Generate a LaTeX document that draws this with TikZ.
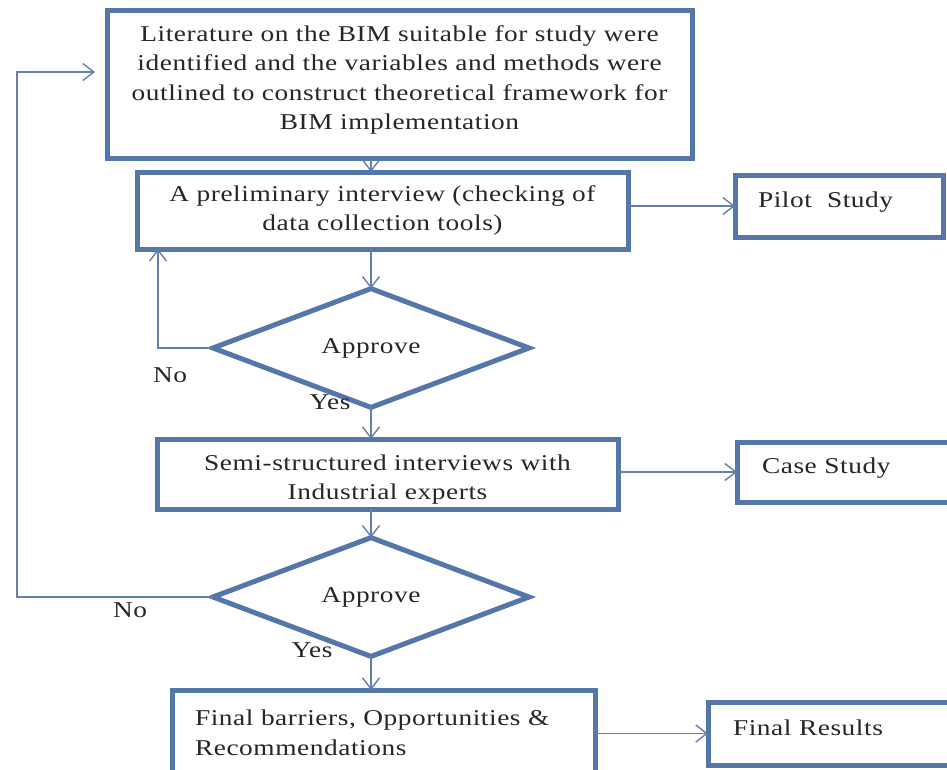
\documentclass[tikz,border=0pt]{standalone}
\usepackage{fontspec}
\setmainfont{Liberation Serif}[FakeStretch=1.21,LetterSpace=2.5]
\usetikzlibrary{shapes.geometric,arrows.meta,calc}
\definecolor{boxc}{RGB}{84,118,168}
\definecolor{linec}{RGB}{100,128,172}
\begin{document}
\begin{tikzpicture}[x=1pt,y=-1pt,
  every node/.style={font=\fontsize{22.6}{29.5}\selectfont, text=black!85, outer sep=0pt},
  procbox/.style={draw=boxc, line width=5pt, fill=white, rectangle, align=center, inner sep=0pt},
  sidebox/.style={procbox, align=left, text height=15pt, text depth=12pt},
  decision/.style={draw=boxc, line width=5pt, fill=white, diamond, inner sep=0pt, minimum width=316pt, minimum height=100pt},
  conn/.style={draw=linec, line width=1.4pt, -{Straight Barb[length=11pt,width=17pt,line width=1.4pt]}},
  lbl/.style={inner sep=0pt}]
\useasboundingbox (0,0) rectangle (947,769);
\fill[white] (0,0) rectangle (947,769);

\node[procbox, minimum width=585pt, minimum height=148pt] (b1) at (399.5,84)
  {Literature on the BIM suitable for study were\\identified and the variables and methods were\\outlined to construct theoretical framework for\\BIM implementation\rule[-13pt]{0pt}{13pt}};
\node[procbox, minimum width=491pt, minimum height=77pt] (b2) at (382.5,210.5)
  {A preliminary interview (checking of\\data collection tools)};
\node[sidebox, text width=162pt, inner xsep=23pt, minimum height=62pt] (p) at (839,206) {Pilot\ \ Study};
\node[decision] (d1) at (371,348) {Approve};
\node[procbox, minimum width=461pt, minimum height=70pt] (b3) at (387.5,474)
  {\rule{0pt}{27pt}Semi-structured interviews with\\Industrial experts};
\node[sidebox, text width=173pt, inner xsep=25pt, minimum height=60pt] (c) at (848.5,472) {Case Study};
\node[decision] (d2) at (371,597) {Approve};
\node[procbox, align=left, text width=377pt, inner xsep=23pt, minimum height=86pt] (b4) at (383.5,733)
  {Final barriers, Opportunities \&\\Recommendations};
\node[sidebox, text width=202pt, inner xsep=25pt, minimum height=63pt] (f) at (834,733.5) {Final Results};

\node[lbl] (no1) at (170,375) {No};
\node[lbl] (yes1) at (330,402) {Yes};
\node[lbl] (no2) at (130,610) {No};
\node[lbl] (yes2) at (312,650) {Yes};

\draw[conn] (b1.south -| d1.north) -- (b2.north -| d1.north);
\draw[conn] (b2.south -| d1.north) -- (d1.north);
\draw[conn] (d1.south) -- (b3.north -| d1.south);
\draw[conn] (b3.south -| d2.north) -- (d2.north);
\draw[conn] (d2.south) -- (b4.north -| d2.south);
\draw[conn] (b2.east |- p.west) -- (p.west);
\draw[conn] (b3.east |- c.west) -- (c.west);
\draw[conn] (b4.east |- f.west) -- (f.west);

\coordinate (n1) at (158,348);
\draw[conn] (d1.west) -- (n1) -- (n1 |- b2.south);
\coordinate (n2) at (17,597);
\coordinate (n3) at (17,72);
\draw[conn, shorten >=12pt] (d2.west) -- (n2) -- (n3) -- (n3 -| b1.west);
\end{tikzpicture}
\end{document}
